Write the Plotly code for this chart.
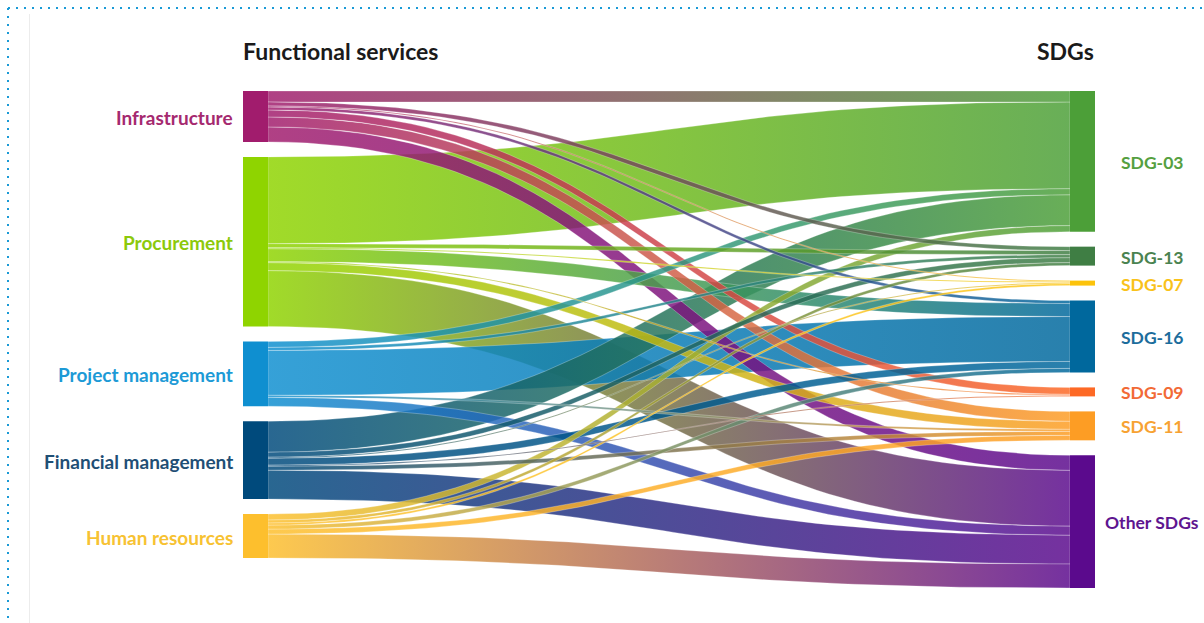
import numpy as np
import plotly.graph_objects as go

# ---------------------------------------------------------------------------
# Data: functional services (left) mapped to SDGs (right)
# ---------------------------------------------------------------------------
services = ["Infrastructure", "Procurement", "Project management",
            "Financial management", "Human resources"]
sdgs = ["SDG-03", "SDG-13", "SDG-07", "SDG-16", "SDG-09", "SDG-11", "Other SDGs"]

# flow from each service to each SDG, in the order of `sdgs`
infrastructure = [11, 4, 1, 3, 7, 10, 15]
procurement = [87, 4, 1, 13, 1, 8, 56]
project_management = [6, 3, 0, 45, 0, 2, 9]
financial_management = [31, 5, 1, 7, 1, 4, 29]
human_resources = [6, 3, 2, 4, 0, 5, 24]

flows = [infrastructure, procurement, project_management,
         financial_management, human_resources]

service_colors = ["#a11c6d", "#8fd400", "#0f8fd0", "#004a7c", "#fdbf2d"]
service_label_colors = ["#a5296f", "#8cc90b", "#1d9ad6", "#1f4f75", "#f7c232"]
sdg_colors = ["#4c9f38", "#3f7e44", "#fcc30b", "#00689d", "#fd6925", "#fd9d24", "#5b0a8d"]
sdg_label_colors = ["#55a040", "#4a8350", "#f9c21a", "#1c6d9c", "#f26a36", "#f7a232", "#5e1590"]

# ---------------------------------------------------------------------------
# Frame (figure pixels) and node geometry
# ---------------------------------------------------------------------------
FIG_W, FIG_H = 1204, 623
LEFT_X = 243
RIGHT_X = 1070
NODE_W = 25
TOP, BOTTOM = 91, 588
GAP = 15
LINK_ALPHA = 0.84

flow_arr = np.array(flows, dtype=float)
service_tot = flow_arr.sum(axis=1)
sdg_tot = flow_arr.sum(axis=0)

span = BOTTOM - TOP
k = min((span - GAP * (len(services) - 1)) / service_tot.sum(),
        (span - GAP * (len(sdgs) - 1)) / sdg_tot.sum())


def stack(totals):
    tops, y = [], TOP
    for t in totals:
        tops.append(y)
        y += t * k + GAP
    return np.array(tops)


service_top = stack(service_tot)
sdg_top = stack(sdg_tot)


def rgba(hex_color, a):
    h = hex_color.lstrip("#")
    r, g, b = int(h[0:2], 16), int(h[2:4], 16), int(h[4:6], 16)
    return f"rgba({r},{g},{b},{a})"


def bezier(x0, x1, y0, y1, n=60):
    t = np.linspace(0, 1, n)
    xm = (x0 + x1) / 2
    x = (1 - t) ** 3 * x0 + 3 * (1 - t) ** 2 * t * xm + 3 * (1 - t) * t ** 2 * xm + t ** 3 * x1
    y = (1 - t) ** 3 * y0 + 3 * (1 - t) ** 2 * t * y0 + 3 * (1 - t) * t ** 2 * y1 + t ** 3 * y1
    return x, y


# link band offsets: at a service ordered by SDG, at an SDG ordered by service
src_off = np.zeros((len(services), len(sdgs)))
tgt_off = np.zeros((len(services), len(sdgs)))
for i in range(len(services)):
    y = service_top[i]
    for j in range(len(sdgs)):
        src_off[i, j] = y
        y += flow_arr[i, j] * k
for j in range(len(sdgs)):
    y = sdg_top[j]
    for i in range(len(services)):
        tgt_off[i, j] = y
        y += flow_arr[i, j] * k

x0 = LEFT_X + NODE_W
x1 = RIGHT_X

links = [(i, j) for i in range(len(services)) for j in range(len(sdgs)) if flow_arr[i, j] > 0]
links.sort(key=lambda ij: -flow_arr[ij])

fig = go.Figure()
for i, j in links:
    w = flow_arr[i, j] * k
    xt, yt = bezier(x0, x1, src_off[i, j], tgt_off[i, j])
    xb, yb = bezier(x0, x1, src_off[i, j] + w, tgt_off[i, j] + w)
    xs = np.concatenate([xt, xb[::-1], xt[:1]])
    ys = np.concatenate([yt, yb[::-1], yt[:1]])
    fig.add_trace(go.Scatter(
        x=xs, y=ys, mode="lines", fill="toself",
        line=dict(width=0.6, color="rgba(255,255,255,0.45)"),
        fillgradient=dict(type="horizontal", start=x0, stop=x1,
                          colorscale=[[0, rgba(service_colors[i], LINK_ALPHA)],
                                      [1, rgba(sdg_colors[j], LINK_ALPHA)]]),
        hoverinfo="text",
        text=f"{services[i]} → {sdgs[j]}: {flows[i][j]}",
        showlegend=False,
    ))

shapes = []
annotations = []
LABEL_FONT = "Lato, 'Open Sans', sans-serif"

for i, name in enumerate(services):
    y0n = service_top[i]
    y1n = y0n + service_tot[i] * k
    shapes.append(dict(type="rect", xref="x", yref="y", x0=LEFT_X, x1=LEFT_X + NODE_W,
                       y0=y0n, y1=y1n, fillcolor=service_colors[i],
                       line=dict(width=0), layer="above"))
    annotations.append(dict(x=LEFT_X - 8, y=(y0n + y1n) / 2 + 1, xref="x", yref="y",
                            text=f"<b>{name}</b>", showarrow=False, xanchor="right",
                            yanchor="middle",
                            font=dict(family=LABEL_FONT, size=19,
                                      color=service_label_colors[i])))

for j, name in enumerate(sdgs):
    y0n = sdg_top[j]
    y1n = y0n + sdg_tot[j] * k
    shapes.append(dict(type="rect", xref="x", yref="y", x0=RIGHT_X, x1=RIGHT_X + NODE_W,
                       y0=y0n, y1=y1n, fillcolor=sdg_colors[j],
                       line=dict(width=0), layer="above"))
    annotations.append(dict(x=1152, y=(y0n + y1n) / 2 + 1, xref="x", yref="y",
                            text=f"<b>{name}</b>", showarrow=False, xanchor="center",
                            yanchor="middle",
                            font=dict(family=LABEL_FONT, size=17.5,
                                      color=sdg_label_colors[j])))

# column headers
annotations.append(dict(x=LEFT_X - 2, y=51, xref="x", yref="y", text="<b>Functional services</b>",
                        showarrow=False, xanchor="left", yanchor="middle",
                        font=dict(family=LABEL_FONT, size=23, color="#1a1a1a")))
annotations.append(dict(x=RIGHT_X + NODE_W + 1, y=51, xref="x", yref="y", text="<b>SDGs</b>",
                        showarrow=False, xanchor="right", yanchor="middle",
                        font=dict(family=LABEL_FONT, size=23, color="#1a1a1a")))

# card edge and dotted frame
shapes.append(dict(type="line", xref="x", yref="y", x0=29.5, x1=29.5, y0=14, y1=FIG_H,
                   line=dict(color="#ececec", width=1)))
shapes.append(dict(type="line", xref="x", yref="y", x0=8, x1=FIG_W, y0=8, y1=8,
                   line=dict(color="#1a9ad6", width=2, dash="2px,6px")))
shapes.append(dict(type="line", xref="x", yref="y", x0=8, x1=8, y0=8, y1=FIG_H,
                   line=dict(color="#1a9ad6", width=2, dash="2px,6px")))

fig.update_layout(
    width=FIG_W, height=FIG_H,
    margin=dict(l=0, r=0, t=0, b=0),
    paper_bgcolor="white", plot_bgcolor="white",
    xaxis=dict(range=[0, FIG_W], visible=False, fixedrange=True),
    yaxis=dict(range=[FIG_H, 0], visible=False, fixedrange=True),
    shapes=shapes, annotations=annotations,
    showlegend=False,
)

fig.write_html("out.html")
